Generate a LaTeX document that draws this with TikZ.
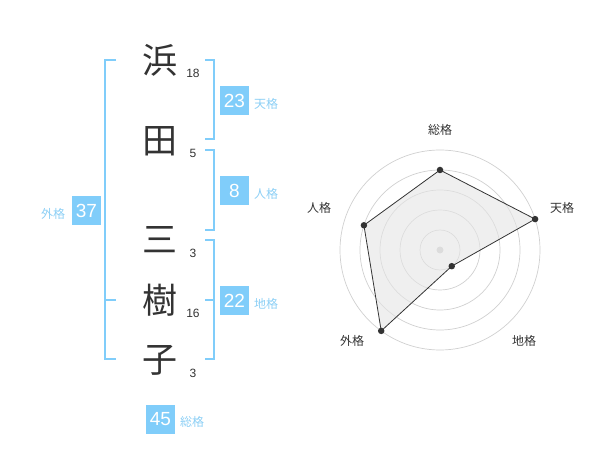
\documentclass[tikz,border=0pt]{standalone}
\usepackage{fontspec}
\setmainfont{Liberation Sans}
\newfontfamily\jp{Noto Sans CJK JP}
\usetikzlibrary{calc}
\definecolor{boxblue}{HTML}{80CDFA}
\definecolor{lblblue}{HTML}{8CCFF5}
\definecolor{ink}{HTML}{333333}
\definecolor{ringgray}{HTML}{D0D0D0}
\tikzset{
  kanji/.style={font=\jp\fontsize{35}{35}\selectfont, text=ink, inner sep=0pt},
  stroke/.style={font=\fontsize{12}{12}\selectfont, text=ink, inner sep=0pt},
  valbox/.style={fill=boxblue, text=white, minimum width=29pt, minimum height=29pt, inner sep=0pt, font=\fontsize{19}{19}\selectfont},
  kaku/.style={font=\jp\fontsize{12}{12}\selectfont, text=lblblue, inner sep=0pt},
  bracket/.style={draw=boxblue, line width=2pt},
  ring/.style={draw=ringgray, line width=0.7pt},
  axislbl/.style={font=\jp\fontsize{12}{12}\selectfont, text=ink, inner sep=0pt},
  dot/.style={circle, fill=ink, inner sep=0pt, minimum size=6.5pt},
}
\begin{document}
\begin{tikzpicture}[x=1pt,y=-1pt]
\useasboundingbox (0,0) rectangle (600,470);
% characters
\node[kanji] (c1) at (160,60) {浜};
\node[kanji] (c2) at (160,141) {田};
\node[kanji] (c3) at (160,240) {三};
\node[kanji] (c4) at (160,300) {樹};
\node[kanji] (c5) at (160,360) {子};
% stroke counts
\node[stroke] (n1) at (193,73) {18};
\node[stroke] (n2) at (193,153) {5};
\node[stroke] (n3) at (193,253) {3};
\node[stroke] (n4) at (193,313) {16};
\node[stroke] (n5) at (193,373) {3};
% brackets
\draw[bracket] (116,60) -- (105,60) -- (105,359) -- (116,359);
\draw[bracket] (105,300) -- (116,300);
\draw[bracket] (205,60) -- (214,60) -- (214,139) -- (205,139);
\draw[bracket] (205,150) -- (214,150) -- (214,230) -- (205,230);
\draw[bracket] (205,240) -- (214,240) -- (214,359) -- (205,359);
\draw[bracket] (205,300) -- (214,300);
% value boxes
\node[valbox] (ten) at (234.5,100.5) {23};
\node[kaku] (tenl) at (266,104) {天格};
\node[valbox] (jin) at (234.5,190.5) {8};
\node[kaku] (jinl) at (266,194) {人格};
\node[valbox] (chi) at (234.5,300.5) {22};
\node[kaku] (chil) at (266,304) {地格};
\node[valbox] (gai) at (86.5,210.5) {37};
\node[kaku] (gail) at (53,214) {外格};
\node[valbox] (sou) at (160.5,419.5) {45};
\node[kaku] (soul) at (192,422) {総格};
% radar chart
\begin{scope}[shift={(440,250)}]
  \foreach \r in {20,40,60,80,100} \draw[ring] (0,0) circle[radius=\r pt];
  \fill[ringgray] (0,0) circle[radius=3.5pt];
  \coordinate (ps) at (90:80pt);
  \coordinate (pt) at (18:100pt);
  \coordinate (pc) at (-54:20pt);
  \coordinate (pg) at (234:100pt);
  \coordinate (pj) at (162:80pt);
  \filldraw[fill=black!10, fill opacity=0.6, draw=ink, line width=0.8pt] (ps) -- (pt) -- (pc) -- (pg) -- (pj) -- cycle;
  \foreach \p in {ps,pt,pc,pg,pj} \node[dot] at (\p) {};
\end{scope}
\node[axislbl] (as) at (440,130) {総格};
\node[axislbl] (at) at (562,208) {天格};
\node[axislbl] (ac) at (524,341) {地格};
\node[axislbl] (ag) at (352,341) {外格};
\node[axislbl] (aj) at (319,208) {人格};
\end{tikzpicture}
\end{document}
